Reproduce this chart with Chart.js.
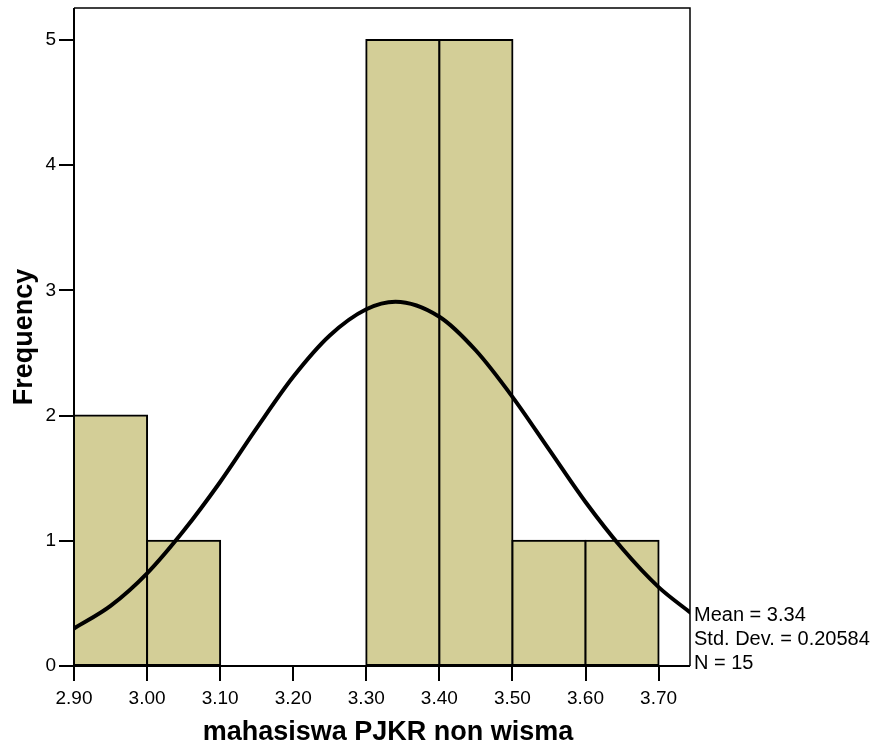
<!DOCTYPE html>
<html>
<head>
<meta charset="utf-8">
<script src="https://cdn.jsdelivr.net/npm/chart.js@4"></script>
<style>
  body { margin: 0; background: #fff; }
  #wrap { width: 876px; height: 749px; }
</style>
</head>
<body>
<div id="wrap"><canvas id="myChart" width="876" height="749"></canvas></div>
<script>
// histogram bins (centres) and counts
var binCenters = [2.95, 3.05, 3.15, 3.25, 3.35, 3.45, 3.55, 3.65];
var counts = [2, 1, 0, 0, 5, 5, 1, 1];

// normal curve
var curveX = [2.90, 2.95, 3.00, 3.05, 3.10, 3.15, 3.20, 3.25, 3.30, 3.34, 3.40, 3.45, 3.50, 3.55, 3.60, 3.65, 3.70, 3.745];
var curveY = [0.30, 0.48, 0.74, 1.08, 1.47, 1.90, 2.31, 2.64, 2.85, 2.91, 2.79, 2.52, 2.15, 1.73, 1.31, 0.94, 0.63, 0.42];

var xTicks = [2.9, 3.0, 3.1, 3.2, 3.3, 3.4, 3.5, 3.6, 3.7];
var yTicks = [0, 1, 2, 3, 4, 5];

var statsText = ['Mean = 3.34', 'Std. Dev. = 0.20584', 'N = 15'];
var xTitle = 'mahasiswa PJKR non wisma';
var yTitle = 'Frequency';

var FONT = "'Liberation Sans', Arial, Helvetica, sans-serif";

var framePlugin = {
  id: 'frame',
  afterDatasetsDraw: function(chart) {
    var a = chart.chartArea, c = chart.ctx;
    c.save();
    c.strokeStyle = '#000';
    c.lineWidth = 1.5;
    c.beginPath();
    c.moveTo(a.left, a.top); c.lineTo(a.right, a.top); c.lineTo(a.right, a.bottom);
    c.stroke();
    c.lineWidth = 2;
    c.beginPath();
    c.moveTo(a.left, a.top); c.lineTo(a.left, a.bottom); c.lineTo(a.right, a.bottom);
    c.stroke();
    c.restore();
  },
  afterDraw: function(chart) {
    var a = chart.chartArea, c = chart.ctx;
    c.save();
    c.fillStyle = '#000';
    c.font = '20px ' + FONT;
    c.textAlign = 'left';
    c.textBaseline = 'alphabetic';
    statsText.forEach(function(t, i) {
      c.fillText(t, a.right + 4, 621 + i * 24);
    });
    c.font = 'bold 27px ' + FONT;
    c.textAlign = 'center';
    c.fillText(xTitle, 388, 740);
    c.translate(32, (a.top + a.bottom) / 2);
    c.rotate(-Math.PI / 2);
    c.fillText(yTitle, 0, 0);
    c.restore();
  }
};

var ctx = document.getElementById('myChart').getContext('2d');
var chart = new Chart(ctx, {
  type: 'bar',
  data: {
    datasets: [{
      type: 'line',
      order: 0,
      data: curveX.map(function(x, i) { return { x: x, y: curveY[i] }; }),
      borderColor: '#000',
      borderWidth: 4,
      pointRadius: 0,
      fill: false,
      cubicInterpolationMode: 'monotone'
    }, {
      type: 'bar',
      order: 1,
      data: binCenters.map(function(x, i) { return { x: x, y: counts[i] }; }),
      backgroundColor: 'rgb(211, 206, 151)',
      borderColor: '#000',
      borderWidth: function(c) { return c.raw && c.raw.y === 0 ? 0 : 2; },
      borderSkipped: false,
      inflateAmount: 1,
      barPercentage: 1,
      categoryPercentage: 1
    }]
  },
  options: {
    responsive: false,
    animation: false,
    layout: { padding: { left: 0, right: 186, top: 8, bottom: 0 } },
    plugins: { legend: { display: false }, tooltip: { enabled: false } },
    scales: {
      x: {
        type: 'linear',
        offset: false,
        min: 2.9,
        max: 3.743,
        afterBuildTicks: function(s) { s.ticks = xTicks.map(function(v) { return { value: v }; }); },
        afterFit: function(s) { s.height = 83; s.paddingLeft = 0; s.paddingRight = 0; },
        border: { display: false },
        grid: { offset: false, drawOnChartArea: false, drawTicks: true, tickLength: 15, color: '#000', lineWidth: 2 },
        ticks: {
          color: '#000',
          font: { family: FONT, size: 19 },
          padding: 6,
          maxRotation: 0,
          callback: function(v) { return Number(v).toFixed(2); }
        }
      },
      y: {
        min: 0,
        max: 5.256,
        afterBuildTicks: function(s) { s.ticks = yTicks.map(function(v) { return { value: v }; }); },
        afterFit: function(s) { s.width = 74; s.paddingTop = 0; s.paddingBottom = 0; },
        border: { display: false },
        grid: { drawOnChartArea: false, drawTicks: true, tickLength: 15, color: '#000', lineWidth: 2 },
        ticks: {
          color: '#000',
          font: { family: FONT, size: 19 },
          padding: 3,
          callback: function(v) { return String(v); }
        }
      }
    }
  },
  plugins: [framePlugin]
});
</script>
</body>
</html>
